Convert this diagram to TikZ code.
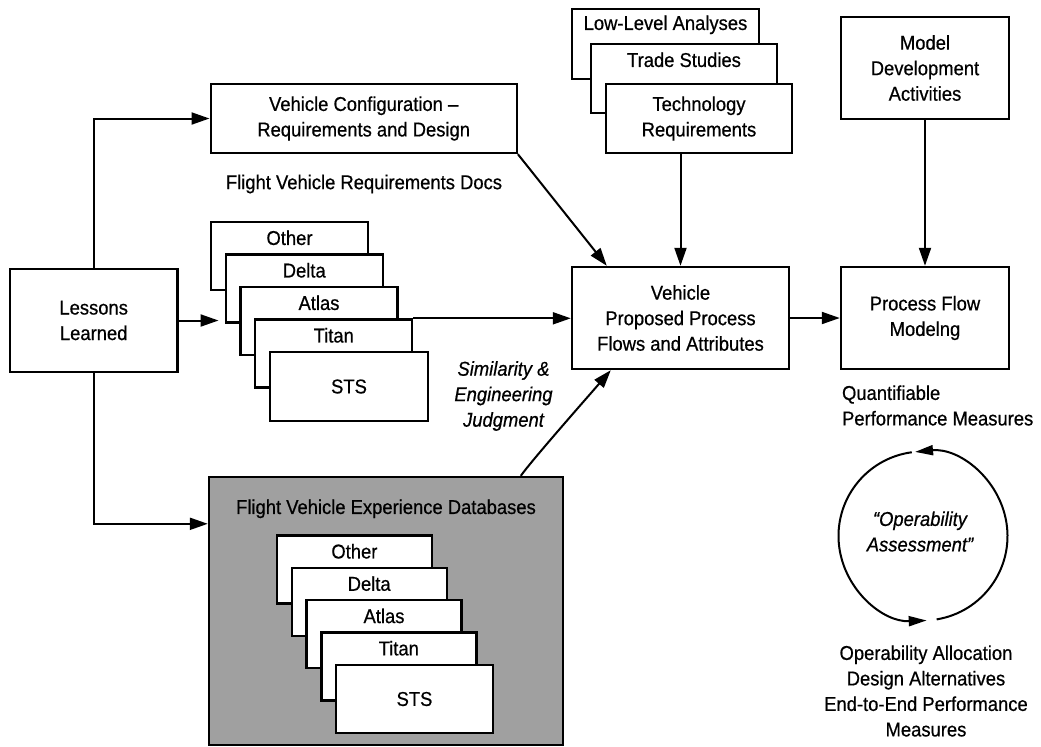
\documentclass[tikz,border=0pt]{standalone}
\usepackage{fontspec}
\setmainfont{Liberation Sans}[FakeStretch=0.92, FakeBold=0.6]
\usetikzlibrary{arrows.meta, positioning}
\definecolor{dbgrey}{RGB}{160,160,160}
\newcommand{\boxfont}{\fontsize{10pt}{12.75pt}\selectfont}
\tikzset{%
	plain box/.style={
		draw,
		fill=white,
		line width=1.2pt,
		align=center
	},
	deck card/.style={
		plain box,
		minimum height=34pt
	},
	card title/.style={
		anchor=center,
		yshift=-8.5pt
	},
}
\begin{document}
\begin{tikzpicture}[
			x=0.5pt, y=-0.5pt,
			every node/.style={font=\boxfont},
			flow arrow/.style={draw, line width=1pt, -{Triangle[length=9pt, width=6pt]}},
			cycle arrow/.style={line width=1pt, -{Triangle[length=9pt, width=5pt]}}
			]
			\useasboundingbox (0,0) rectangle (1041,746);
			
			% Left column and requirements
			\node[plain box, minimum width=83.75pt, minimum height=51.5pt] (lessons) at (93.7,320.5) {Lessons\\Learned};
			\node[plain box, minimum width=153pt, minimum height=34.5pt] (config) at (363.7,118.5) {Vehicle Configuration --\\Requirements and Design};
			\node (reqdocs) at (364,184) {Flight Vehicle Requirements Docs};
			
			% Upper deck of vehicles
			\foreach \lbl [count=\k from 0] in {Other,Delta,Atlas,Titan}
			\node[deck card, minimum width=78.5pt, label={[card title]north:\lbl}] (up\lbl) at ({289.5+14.75*\k},{256+32.5*\k}) {};
			\node[deck card, minimum width=79pt, minimum height=34.5pt] (upSTS) at (349,386.5) {STS};
			
			% Analyses deck
			\node[deck card, minimum width=93.5pt, minimum height=35pt, label={[card title]north:Low-Level Analyses}] (lowlevel) at (665.5,44) {};
			\node[deck card, minimum width=93pt, minimum height=34.5pt, label={[card title]north:Trade Studies}] (trade) at (684,78.5) {};
			\node[plain box, minimum width=93pt, minimum height=34.5pt] (techreq) at (699,118.5) {Technology\\Requirements};
			
			\node[plain box, minimum width=108.5pt, minimum height=51pt] (proposed) at (680.5,318) {Vehicle\\Proposed Process\\Flows and Attributes};
			\node[plain box, minimum width=84pt, minimum height=51pt] (model) at (925,68) {Model\\Development\\Activities};
			\node[plain box, minimum width=84pt, minimum height=51pt] (process) at (925,318) {Process Flow\\Modelng};
			
			% Experience databases
			\node[draw, line width=1.2pt, fill=dbgrey, minimum width=177pt, minimum height=134pt,
			label={[anchor=center, yshift=-16.5pt]north:Flight Vehicle Experience Databases}] (expdb) at (386,611) {};
			\foreach \lbl [count=\k from 0] in {Other,Delta,Atlas,Titan}
			\node[deck card, minimum width=77.5pt, label={[card title]north:\lbl}] (db\lbl) at ({354.4+14.8*\k},{569.5+32.3*\k}) {};
			\node[deck card, minimum width=78.5pt] (dbSTS) at (414.5,699) {STS};
			
			\node[font=\boxfont\itshape, align=center] (simtext) at (503.5,396) {Similarity \&\\Engineering\\Judgment};
			
			% Right column texts
			\node[align=left, anchor=west] (quant) at (835,405.5) {Quantifiable\\Performance Measures};
			\node[font=\boxfont\itshape, align=center] (assess) at (920,531.5) {``Operability\\Assessment''};
			\node[align=center] (allocs) at (926,691) {Operability Allocation\\Design Alternatives\\End-to-End Performance\\Measures};
			
			% Connectors
			\draw[flow arrow] (lessons.north) |- (config.west);
			\draw[flow arrow, shorten >=3pt] (lessons.east) -- (lessons.east -| upDelta.west);
			\draw[flow arrow] (lessons.south) |- ([yshift=-24pt]expdb.north west);
			\draw[flow arrow] (upTitan.north east) -- (upTitan.north east -| proposed.west);
			\draw[flow arrow] (config.south east) -- ([xshift=18pt]proposed.north west);
			\draw[flow arrow] (proposed.north |- techreq.south) -- (proposed.north);
			\draw[flow arrow] (model) -- (process);
			\draw[flow arrow] (proposed) -- (process);
			\draw[flow arrow] ([xshift=156.5pt]expdb.north west) .. controls (532,460) and (592,392) .. ([xshift=20pt]proposed.south west);
			
			% Assessment cycle
			\begin{scope}[shift={(923,536)}, yscale=-1]
				\draw[cycle arrow] (-80.7:84.5) arc[start angle=-80.7, end angle=95.4, radius=84.5];
				\draw[cycle arrow] (97.6:84.5) arc[start angle=97.6, end angle=272.5, radius=84.5];
			\end{scope}
			
		\end{tikzpicture}
\end{document}
